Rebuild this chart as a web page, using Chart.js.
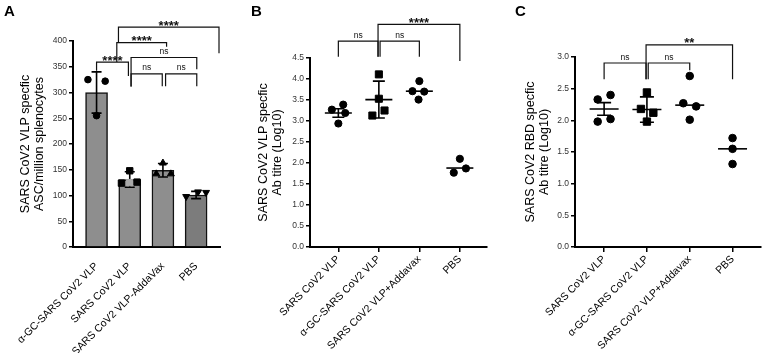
<!DOCTYPE html>
<html>
<head>
<meta charset="utf-8">
<script src="https://cdn.jsdelivr.net/npm/chart.js@4.4.0/dist/chart.umd.min.js"></script>
<style>
  body { margin: 0; background: #fff; width: 767px; height: 353px; position: relative; overflow: hidden; }
  .panel { position: absolute; top: 0; }
  .letter { position: absolute; top: 2px; font: bold 15px 'Liberation Sans', Arial, sans-serif; color: #000; }
</style>
</head>
<body>
<div class="panel" style="left:0"><canvas id="chartA" width="250" height="353"></canvas></div>
<div class="panel" style="left:250px"><canvas id="chartB" width="260" height="353"></canvas></div>
<div class="panel" style="left:510px"><canvas id="chartC" width="257" height="353"></canvas></div>
<div class="letter" style="left:4px">A</div>
<div class="letter" style="left:251px">B</div>
<div class="letter" style="left:515px">C</div>
<script>
// ---- data ----
const groupsA = ['α-GC-SARS CoV2 VLP', 'SARS CoV2 VLP', 'SARS CoV2 VLP-AddaVax', 'PBS'];
const meansA = [300, 131, 149, 101];
const errorsA = [40, 15, 13, 7];
const pointsA = [[325, 322, 255], [148, 124, 125, 126], [163, 142, 142], [98, 107, 106]];
const yTicksA = [0, 50, 100, 150, 200, 250, 300, 350, 400];

const groupsB = ['SARS CoV2 VLP', 'α-GC-SARS CoV2 VLP', 'SARS CoV2 VLP+Addavax', 'PBS'];
const meansB = [3.19, 3.51, 3.71, 1.88];
const errorsB = [0.1, 0.44, 0, 0];
const pointsB = [[3.27, 3.39, 3.19, 2.94], [4.11, 3.53, 3.25, 3.13], [3.95, 3.71, 3.70, 3.51], [2.10, 1.77, 1.87]];
const yTicksB = [0, 0.5, 1, 1.5, 2, 2.5, 3, 3.5, 4, 4.5];

const groupsC = ['SARS CoV2 VLP', 'α-GC-SARS CoV2 VLP', 'SARS CoV2 VLP+Addavax', 'PBS'];
const meansC = [2.18, 2.17, 2.24, 1.55];
const errorsC = [0.1, 0.2, 0, 0];
const pointsC = [[2.33, 2.40, 1.98, 2.02], [2.44, 2.18, 2.12, 1.98], [2.70, 2.27, 2.22, 2.01], [1.72, 1.55, 1.31]];
const yTicksC = [0, 0.5, 1, 1.5, 2, 2.5, 3];

// significance brackets: x in group units, y in axis units
const bracketsA = [
  { x1: 0, x2: 0.96, y: 359, leg1: 342, leg2: 332, label: '****' },
  { x1: 0.61, x2: 2.11, y: 397, leg1: 359, leg2: 389, label: '****' },
  { x1: 0.66, x2: 3.69, y: 427, leg1: 397, leg2: 376, label: '****' },
  { x1: 1.04, x2: 3.02, y: 368, leg1: 311, leg2: 345, label: 'ns' },
  { x1: 1.04, x2: 1.98, y: 336, leg1: 312, leg2: 312, label: 'ns' },
  { x1: 2.08, x2: 3.02, y: 336, leg1: 312, leg2: 312, label: 'ns' }
];
const bracketsB = [
  { x1: 0, x2: 0.98, y: 4.9, leg1: 4.53, leg2: 4.53, label: 'ns' },
  { x1: 1.03, x2: 2, y: 4.9, leg1: 4.53, leg2: 4.53, label: 'ns' },
  { x1: 0.98, x2: 3, y: 5.3, leg1: 4.53, leg2: 4.43, label: '****' }
];
const bracketsC = [
  { x1: 0, x2: 0.98, y: 2.905, leg1: 2.65, leg2: 2.65, label: 'ns' },
  { x1: 1.03, x2: 2, y: 2.905, leg1: 2.65, leg2: 2.79, label: 'ns' },
  { x1: 0.98, x2: 3, y: 3.19, leg1: 2.65, leg2: 2.65, label: '**' }
];

// horizontal spread of the dots inside each group (group units)
const jitterA = [[-0.26, 0.26, 0], [0, -0.25, 0, 0.22], [0, -0.2, 0.24], [-0.3, 0.06, 0.3]];
const jitterB = [[-0.16, 0.12, 0.17, 0], [0, 0, 0.14, -0.16], [0, -0.17, 0.12, -0.02], [0, -0.15, 0.15]];
const jitterC = [[-0.15, 0.15, -0.15, 0.15], [0, -0.14, 0.15, 0], [0, -0.15, 0.15, 0], [0, 0, 0]];

const FONT = "'Liberation Sans', Arial, sans-serif";
Chart.defaults.font.family = FONT;
Chart.defaults.color = '#222';

function overlay(cfg) {
  const drawErrors = (chart) => {
    const { ctx, scales: { x, y } } = chart;
    ctx.save();
    ctx.strokeStyle = '#000';
    ctx.lineWidth = 1.6;
    cfg.means.forEach((m, i) => {
      const px = x.getPixelForValue(i);
      const py = y.getPixelForValue(m);
      ctx.beginPath();
      if (cfg.meanHalf) {
        ctx.moveTo(px - cfg.meanHalf, py); ctx.lineTo(px + cfg.meanHalf, py);
      }
      const e = cfg.errors[i];
      if (e > 0) {
        const top = y.getPixelForValue(m + e), bot = y.getPixelForValue(m - e);
        ctx.moveTo(px, top); ctx.lineTo(px, bot);
        ctx.moveTo(px - cfg.capHalf, top); ctx.lineTo(px + cfg.capHalf, top);
        ctx.moveTo(px - cfg.capHalf, bot); ctx.lineTo(px + cfg.capHalf, bot);
      }
      ctx.stroke();
    });
    ctx.restore();
  };
  return {
    id: 'overlay',
    afterDatasetDraw(chart, args) {
      if (cfg.bars && args.index === 0) drawErrors(chart);
    },
    beforeDatasetsDraw(chart) {
      if (!cfg.bars) drawErrors(chart);
    },
    afterDraw(chart) {
      const { ctx, scales: { x, y } } = chart;
      ctx.save();
      ctx.strokeStyle = '#111';
      ctx.lineWidth = 1.2;
      ctx.fillStyle = '#111';
      ctx.textAlign = 'center';
      ctx.textBaseline = 'alphabetic';
      cfg.brackets.forEach(b => {
        const x1 = x.getPixelForValue(b.x1), x2 = x.getPixelForValue(b.x2);
        const yy = y.getPixelForValue(b.y);
        ctx.beginPath();
        ctx.moveTo(x1, y.getPixelForValue(b.leg1));
        ctx.lineTo(x1, yy);
        ctx.lineTo(x2, yy);
        ctx.lineTo(x2, y.getPixelForValue(b.leg2));
        ctx.stroke();
        const stars = b.label !== 'ns';
        ctx.font = stars ? 'bold 13px ' + FONT : '8.5px ' + FONT;
        ctx.fillText(b.label, (x1 + x2) / 2, yy + (stars ? 2.5 : -3.5));
      });
      ctx.restore();
    }
  };
}

function pointSets(points, jitter, styles) {
  return points.map((vals, i) => ({
    type: 'scatter',
    order: 0,
    data: vals.map((v, j) => ({ x: i + jitter[i][j], y: v })),
    pointStyle: styles[i].style,
    rotation: styles[i].rotation || 0,
    radius: styles[i].radius,
    backgroundColor: styles[i].colors || '#000',
    borderColor: styles[i].colors || '#000',
    borderWidth: 1
  }));
}

function baseOptions(p) {
  return {
    responsive: false,
    animation: false,
    events: [],
    layout: { padding: p.padding },
    plugins: { legend: { display: false }, tooltip: { enabled: false } },
    scales: {
      x: {
        type: 'linear', min: p.xmin, max: p.xmax, offset: false,
        afterFit: s => { s.height = 106; s.paddingLeft = 0; s.paddingRight = 0; },
        afterBuildTicks: s => { s.ticks = p.groups.map((g, i) => ({ value: i })); },
        grid: p.xticks
          ? { drawOnChartArea: false, drawTicks: true, tickLength: 5, color: '#000', lineWidth: 1.5 }
          : { display: false },
        border: { display: true, color: '#000', width: 2 },
        ticks: {
          autoSkip: false, minRotation: 45, maxRotation: 45, padding: p.xticks ? 1 : 5,
          color: '#000', font: { size: 10.5 },
          callback: v => p.groups[Math.round(v)]
        }
      },
      y: {
        min: p.yTicks[0], max: p.yTicks[p.yTicks.length - 1],
        afterFit: s => { s.width = p.yWidth; s.paddingTop = 0; s.paddingBottom = 0; },
        afterBuildTicks: s => { s.ticks = p.yTicks.map(v => ({ value: v })); },
        grid: { drawOnChartArea: false, drawTicks: true, tickLength: 4, color: '#000', lineWidth: 1.5 },
        border: { display: true, color: '#000', width: 2 },
        ticks: {
          padding: 2, color: '#333', font: { size: 8.5 },
          callback: v => p.decimals ? v.toFixed(p.decimals) : v
        },
        title: {
          display: true, text: p.title, color: '#000',
          padding: { top: 0, bottom: 0 },
          font: { size: 12.5, lineHeight: 1.15 }
        }
      }
    }
  };
}

// ---- A: bar chart with dots ----
new Chart(document.getElementById('chartA'), {
  type: 'bar',
  data: {
    datasets: [
      {
        type: 'bar',
        order: 1,
        data: meansA.map((m, i) => ({ x: i, y: m })),
        backgroundColor: ['#8e8e8e', '#8e8e8e', '#8e8e8e', '#7c7c7c'],
        borderColor: '#111',
        borderWidth: 1.5,
        barThickness: 22
      },
      ...pointSets(pointsA, jitterA, [
        { style: 'circle', radius: 3.3 },
        { style: 'rect', radius: 4.5, colors: ['#000', '#000', '#a8a8a8', '#000'] },
        { style: 'triangle', radius: 4 },
        { style: 'triangle', radius: 4, rotation: 180 }
      ])
    ]
  },
  options: baseOptions({
    groups: groupsA, yTicks: yTicksA, decimals: 0, xticks: false,
    padding: { left: 18, top: 41, right: 30, bottom: 0 }, yWidth: 55,
    xmin: -0.71, xmax: 3.72,
    title: ['SARS CoV2 VLP specfic', 'ASC/million splenocytes']
  }),
  plugins: [overlay({ bars: true, means: meansA, errors: errorsA, capHalf: 5, brackets: bracketsA })]
});

// ---- B: dot plot ----
new Chart(document.getElementById('chartB'), {
  type: 'scatter',
  data: {
    datasets: pointSets(pointsB, jitterB, [
      { style: 'circle', radius: 3.6 },
      { style: 'rect', radius: 5 },
      { style: 'circle', radius: 3.6 },
      { style: 'circle', radius: 3.6 }
    ])
  },
  options: baseOptions({
    groups: groupsB, yTicks: yTicksB, decimals: 1, xticks: true,
    padding: { left: 6, top: 58, right: 23, bottom: 0 }, yWidth: 54,
    xmin: -0.70, xmax: 3.67,
    title: ['SARS CoV2 VLP specfic', 'Ab titre (Log10)']
  }),
  plugins: [overlay({ bars: false, means: meansB, errors: errorsB, meanHalf: 13.5, capHalf: 6, brackets: bracketsB })]
});

// ---- C: dot plot ----
new Chart(document.getElementById('chartC'), {
  type: 'scatter',
  data: {
    datasets: pointSets(pointsC, jitterC, [
      { style: 'circle', radius: 3.8 },
      { style: 'rect', radius: 5.2 },
      { style: 'circle', radius: 3.8 },
      { style: 'circle', radius: 3.8 }
    ])
  },
  options: baseOptions({
    groups: groupsC, yTicks: yTicksC, decimals: 1, xticks: true,
    padding: { left: 13, top: 57, right: 4, bottom: 0 }, yWidth: 52,
    xmin: -0.68, xmax: 3.66,
    title: ['SARS CoV2 RBD specfic', 'Ab titre (Log10)']
  }),
  plugins: [overlay({ bars: false, means: meansC, errors: errorsC, meanHalf: 14.5, capHalf: 7, brackets: bracketsC })]
});
</script>
</body>
</html>
